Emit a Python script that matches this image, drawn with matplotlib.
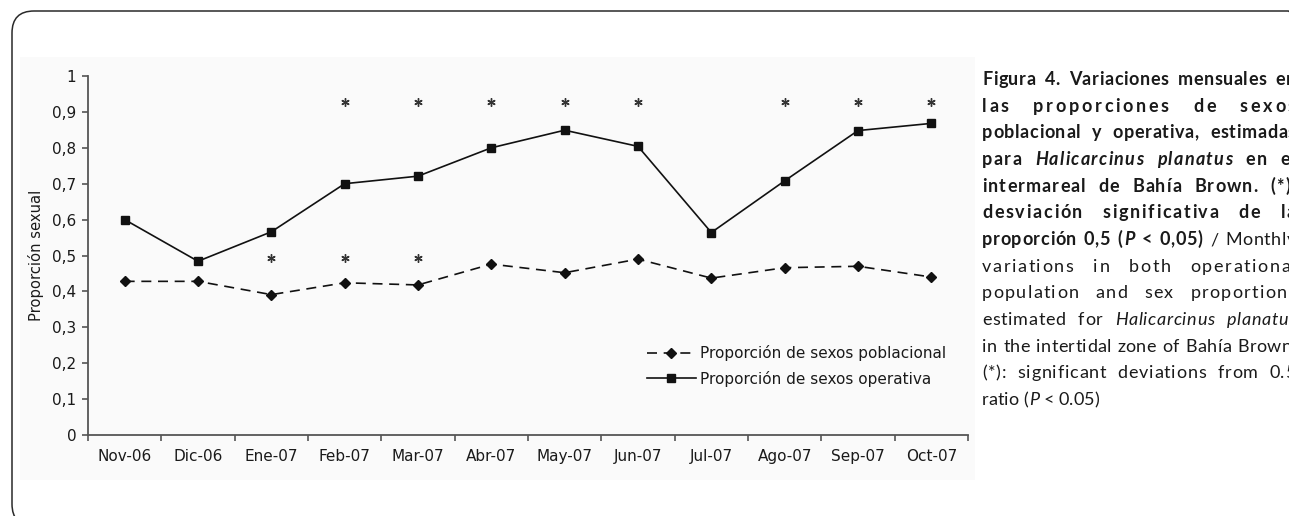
import matplotlib
matplotlib.use("Agg")
import matplotlib.pyplot as plt
from matplotlib.patches import FancyBboxPatch, Rectangle
from matplotlib.transforms import IdentityTransform

# ---------------- data ----------------
months = ["Nov-06", "Dic-06", "Ene-07", "Feb-07", "Mar-07", "Abr-07",
          "May-07", "Jun-07", "Jul-07", "Ago-07", "Sep-07", "Oct-07"]
pop_ratio = [0.428, 0.428, 0.391, 0.424, 0.418, 0.476,
             0.452, 0.490, 0.437, 0.466, 0.470, 0.440]
op_ratio = [0.600, 0.484, 0.566, 0.700, 0.721, 0.800,
            0.849, 0.804, 0.564, 0.708, 0.848, 0.868]
sig_op = ["Feb-07", "Mar-07", "Abr-07", "May-07", "Jun-07", "Ago-07", "Sep-07", "Oct-07"]
sig_pop = ["Ene-07", "Feb-07", "Mar-07"]
sig_op_level = 0.928
sig_pop_level = 0.493
yticks = [0, 0.1, 0.2, 0.3, 0.4, 0.5, 0.6, 0.7, 0.8, 0.9, 1]
ytick_labels = ["0", "0,1", "0,2", "0,3", "0,4", "0,5", "0,6", "0,7", "0,8", "0,9", "1"]
label_pop = "Proporción de sexos poblacional"
label_op = "Proporción de sexos operativa"
ylabel = "Proporción sexual"

W, H = 1289, 516
fig = plt.figure(figsize=(W / 100, H / 100), dpi=100)
fig.patch.set_facecolor("white")

def fx(px):
    return px / W

def fy(py):
    return 1 - py / H

# rounded outer frame (display coordinates)
frame = FancyBboxPatch((12, H - 526), 1310 - 12, 526 - 11,
                       boxstyle="round,pad=0,rounding_size=22",
                       transform=IdentityTransform(), fill=False,
                       edgecolor="#2a2a2a", linewidth=1.1, zorder=-2)
fig.patches.append(frame)

# faint chart-image background
bg = Rectangle((fx(20), fy(480)), fx(975) - fx(20), fy(57) - fy(480),
               transform=fig.transFigure, facecolor="#fafafa",
               edgecolor="none", zorder=-3)
fig.patches.append(bg)

# ---------------- axes ----------------
ax = fig.add_axes([fx(88), fy(435), fx(968) - fx(88), fy(76) - fy(435)])
ax.patch.set_alpha(0)
ax.set_zorder(2)
x = list(range(len(months)))

ax.plot(x, pop_ratio, color="#111111", lw=1.2, linestyle=(0, (6, 4)),
        marker="D", markersize=5.2, markerfacecolor="#111111",
        markeredgecolor="#111111", label=label_pop, zorder=3)
ax.plot(x, op_ratio, color="#111111", lw=1.2, linestyle="-",
        marker="s", markersize=5.8, markerfacecolor="#111111",
        markeredgecolor="#111111", label=label_op, zorder=3)

ax.plot([months.index(m) for m in sig_op], [sig_op_level] * len(sig_op),
        linestyle="none", marker=(6, 2, 0), markersize=6,
        markeredgewidth=1.0, color="#333333")
ax.plot([months.index(m) for m in sig_pop], [sig_pop_level] * len(sig_pop),
        linestyle="none", marker=(6, 2, 0), markersize=6,
        markeredgewidth=1.0, color="#333333")

ax.set_xlim(-0.5, len(months) - 0.5)
ax.set_ylim(0, 1)
for s in ["top", "right"]:
    ax.spines[s].set_visible(False)
for s in ["left", "bottom"]:
    ax.spines[s].set_color("#555555")
    ax.spines[s].set_linewidth(1.3)

ax.set_xticks([i - 0.5 for i in range(len(months) + 1)])
ax.set_xticklabels([])
ax.set_xticks(x, minor=True)
ax.set_xticklabels(months, minor=True)
ax.tick_params(axis="x", which="major", direction="out", length=4.5,
               width=1.2, color="#555555")
ax.tick_params(axis="x", which="minor", length=0, pad=10,
               labelsize=11, labelcolor="#1a1a1a")
ax.set_yticks(yticks)
ax.set_yticklabels(ytick_labels)
ax.tick_params(axis="y", direction="out", length=4.5, width=1.2,
               color="#555555", labelsize=11, labelcolor="#1a1a1a", pad=4)
ax.set_ylabel(ylabel, fontsize=10.6, color="#1a1a1a", labelpad=6)

leg = ax.legend(loc="center left", bbox_to_anchor=((647 - 88) / 880, (435 - 366) / 359),
                frameon=False, fontsize=11, handlelength=3.2,
                handletextpad=0.3, labelspacing=0.62, borderpad=0,
                borderaxespad=0)
for t in leg.get_texts():
    t.set_color("#1a1a1a")

# ---------------- caption (justified, with tracking) ----------------
B = dict(weight="bold", style="normal")
BI = dict(weight="bold", style="italic")
R = dict(weight="normal", style="normal")
I = dict(weight="normal", style="italic")

lines = [
    [[("Figura", B)], [("4.", B)], [("Variaciones", B)], [("mensuales", B)], [("en", B)]],
    [[("las", B)], [("proporciones", B)], [("de", B)], [("sexos", B)]],
    [[("poblacional", B)], [("y", B)], [("operativa,", B)], [("estimadas", B)]],
    [[("para", B)], [("Halicarcinus", BI)], [("planatus", BI)], [("en", B)], [("el", B)]],
    [[("intermareal", B)], [("de", B)], [("Bahía", B)], [("Brown.", B)], [("(*):", B)]],
    [[("desviación", B)], [("significativa", B)], [("de", B)], [("la", B)]],
    [[("proporción", B)], [("0,5", B)], [("(", B), ("P", BI)], [("<", B)], [("0,05)", B)],
     [("/", R)], [("Monthly", R)]],
    [[("variations", R)], [("in", R)], [("both", R)], [("operational", R)]],
    [[("population", R)], [("and", R)], [("sex", R)], [("proportions", R)]],
    [[("estimated", R)], [("for", R)], [("Halicarcinus", I)], [("planatus", I)]],
    [[("in", R)], [("the", R)], [("intertidal", R)], [("zone", R)], [("of", R)],
     [("Bahía", R)], [("Brown.", R)]],
    [[("(*):", R)], [("significant", R)], [("deviations", R)], [("from", R)], [("0.5", R)]],
    [[("ratio", R)], [("(", R), ("P", I)], [("<", R)], [("0.05)", R)]],
]
justify = [True] * 12 + [False]

cap_font = "Lato"
renderer = fig.canvas.get_renderer()
_cache = {}

def measure(s, st, size):
    key = (s, st["weight"], st["style"], size)
    if key not in _cache:
        t = fig.text(0, 0, s, fontsize=size, family=cap_font, **st)
        _cache[key] = t.get_window_extent(renderer).width
        t.remove()
    return _cache[key]

ref = 10.0
space_ref = measure("a a", R, ref) - measure("aa", R, ref)
x0, x1 = 982, 1296
need = []
for ln, j in zip(lines, justify):
    if not j:
        continue
    tot = sum(measure(s, st, ref) for word in ln for s, st in word)
    tot += space_ref * 0.95 * (len(ln) - 1)
    need.append(tot)
cap_size = min(13.0, ref * (x1 - x0) / max(need))
space = space_ref * cap_size / ref

base0, step = 85, 26.67
for k, ln in enumerate(lines):
    j = justify[k]
    words = []
    for word in ln:
        chars = []
        for s, st in word:
            for c in s:
                chars.append((c, st))
        words.append(chars)
    offs, wws = [], []
    for chars in words:
        mono = all(cs is chars[0][1] for _, cs in chars)
        o = []
        if mono:
            st = chars[0][1]
            for i in range(len(chars)):
                prefix = "".join(c for c, _ in chars[:i + 1])
                o.append(measure(prefix, st, cap_size) - measure(chars[i][0], st, cap_size))
            wws.append(measure("".join(c for c, _ in chars), st, cap_size))
        else:
            xx = 0
            sp = 0.06 * cap_size * 100 / 72
            for c, st in chars:
                o.append(xx)
                xx += measure(c, st, cap_size) + sp
            wws.append(xx - sp)
        offs.append(o)
    natural = sum(wws) + space * (len(words) - 1)
    extra = (x1 - x0 - natural) if (j and len(words) > 1) else 0.0
    n_letter_gaps = sum(len(w) - 1 for w in words)
    track = 0.45 * extra / max(n_letter_gaps, 1)
    gap = space + (extra - track * n_letter_gaps) / max(len(words) - 1, 1) if j else space
    xp = x0
    yb = base0 + k * step
    for chars, o, ww in zip(words, offs, wws):
        for i, ((c, st), oi) in enumerate(zip(chars, o)):
            fig.text(fx(xp + oi + i * track), fy(yb), c, fontsize=cap_size,
                     family=cap_font, va="baseline", ha="left", color="#1a1a1a", **st)
        xp += ww + track * (len(chars) - 1) + gap

fig.savefig("out.png", dpi=100)
